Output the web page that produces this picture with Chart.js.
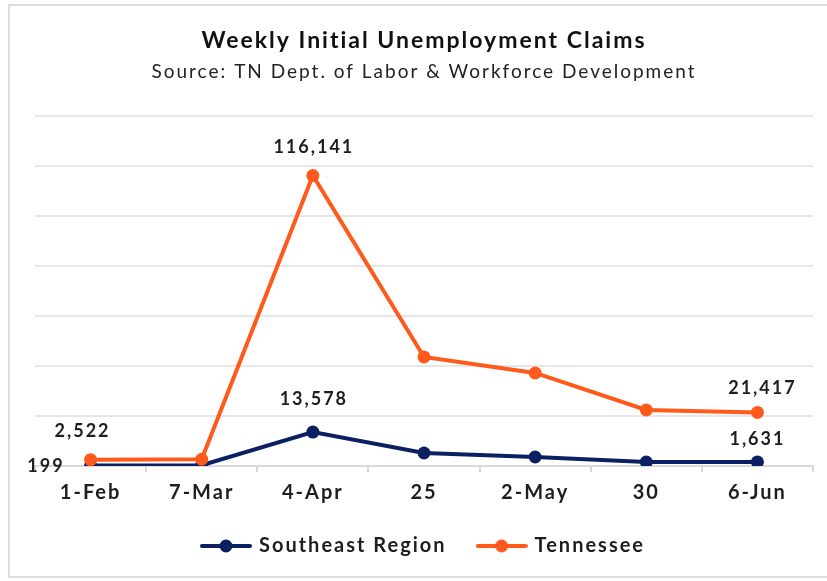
<!DOCTYPE html>
<html><head><meta charset="utf-8">
<script src="https://cdn.jsdelivr.net/npm/chart.js@4"></script>
<style>
html,body{margin:0;padding:0;background:#fff;}
#wrap{position:relative;width:827px;height:581px;overflow:hidden;background:#fff;}
#frame{position:absolute;left:8px;top:4px;width:840px;height:574px;border:2px solid #dcdcdc;box-sizing:border-box;}
canvas{position:absolute;left:0;top:0;}
</style></head><body>
<div id="wrap"><div id="frame"></div><canvas id="c" width="827" height="581"></canvas></div>
<script>
// ---- data ----
const categories = ['1-Feb', '7-Mar', '4-Apr', '25', '2-May', '30', '6-Jun'];
const seriesNames = ['Southeast Region', 'Tennessee'];
const southeastValues = [199, 300, 13578, 5200, 3600, 1600, 1631];
const tennesseeValues = [2522, 2700, 116141, 43600, 37200, 22400, 21417];
const yTickValues = [0, 20000, 40000, 60000, 80000, 100000, 120000, 140000];
const labelledPoints = [ // [datasetIndex, pointIndex]
  [1, 0], [0, 0], [1, 2], [0, 2], [1, 6], [0, 6]
];

// ---- styles ----
const NAVY = '#0b2063';
const ORANGE = '#ff5a1c';
const FONT = 'Lato';
const labelOffsets = {
  '1-0': {dx: -8, dy: -29, align: 'center'},
  '0-0': {dx: -26, dy: 1, align: 'right'},
  '1-2': {dx: 1, dy: -28, align: 'center'},
  '0-2': {dx: 1, dy: -33, align: 'center'},
  '1-6': {dx: 5, dy: -24, align: 'center'},
  '0-6': {dx: 0, dy: -23, align: 'center'}
};

function legendMarker(color) {
  const c = document.createElement('canvas');
  c.width = 52; c.height = 16;
  const g = c.getContext('2d');
  g.strokeStyle = color; g.lineWidth = 4; g.lineCap = 'round';
  g.beginPath(); g.moveTo(2, 8); g.lineTo(50, 8); g.stroke();
  g.fillStyle = color;
  g.beginPath(); g.arc(26, 8, 6.5, 0, Math.PI * 2); g.fill();
  return c;
}
const markers = [legendMarker(NAVY), legendMarker(ORANGE)];

const spacing = {
  id: 'spacing',
  beforeUpdate(chart) { chart.ctx.letterSpacing = '2px'; },
  beforeDraw(chart) { chart.ctx.letterSpacing = '2px'; }
};

const valueLabels = {
  id: 'valueLabels',
  afterDatasetsDraw(chart) {
    const ctx = chart.ctx;
    ctx.save();
    ctx.font = '700 18px ' + FONT;
    ctx.fillStyle = '#1e1e1e';
    ctx.textBaseline = 'middle';
    labelledPoints.forEach(([ds, i]) => {
      const pt = chart.getDatasetMeta(ds).data[i];
      const v = chart.data.datasets[ds].data[i];
      const o = labelOffsets[ds + '-' + i];
      ctx.textAlign = o.align;
      ctx.fillText(v.toLocaleString('en-US'), pt.x + o.dx, pt.y + o.dy);
    });
    ctx.restore();
  }
};

new Chart(document.getElementById('c'), {
  type: 'line',
  data: {
    labels: categories,
    datasets: [
      {label: seriesNames[0], data: southeastValues, borderColor: NAVY, backgroundColor: NAVY,
       borderWidth: 4, pointRadius: 6.5, pointBorderWidth: 0, pointBackgroundColor: NAVY, order: 1, tension: 0},
      {label: seriesNames[1], data: tennesseeValues, borderColor: ORANGE, backgroundColor: ORANGE,
       borderWidth: 4, pointRadius: 6.5, pointBorderWidth: 0, pointBackgroundColor: ORANGE, order: 0, tension: 0}
    ]
  },
  options: {
    responsive: false,
    devicePixelRatio: 1,
    animation: false,
    layout: {padding: {left: 35, right: 14, top: 0, bottom: 15}, autoPadding: false},
    scales: {
      x: {
        offset: true,
        afterFit: s => { s.height = 38; },
        grid: {display: true, drawOnChartArea: false, drawTicks: true, tickLength: 6, color: '#d9d9d9', lineWidth: 2, offset: true},
        border: {display: true, color: '#dadada', width: 2},
        ticks: {color: '#1e1e1e', font: {family: FONT, size: 20, weight: '700'}, padding: 9, maxRotation: 0, autoSkip: false}
      },
      y: {
        min: 0, max: 140000,
        afterBuildTicks: s => { s.ticks = yTickValues.map(v => ({value: v})); },
        afterFit: s => { s.width = 0; },
        grid: {color: '#e6e6e6', lineWidth: 2, drawTicks: false},
        border: {display: false},
        ticks: {display: false}
      }
    },
    plugins: {
      title: {display: true, text: 'Weekly Initial Unemployment Claims', color: '#111',
        font: {family: FONT, size: 23, weight: '700'}, padding: {top: 27, bottom: 2}},
      subtitle: {display: true, text: 'Source: TN Dept. of Labor & Workforce Development', color: '#222',
        font: {family: FONT, size: 19, weight: '400'}, padding: {top: 3.5, bottom: 33}},
      legend: {
        position: 'bottom',
        labels: {
          usePointStyle: true, pointStyleWidth: 46, padding: 32, color: '#1e1e1e',
          font: {family: FONT, size: 20, weight: '700'},
          generateLabels: chart => [0, 1].map(i => ({
            text: chart.data.datasets[i].label, pointStyle: markers[i],
            fillStyle: chart.data.datasets[i].borderColor, strokeStyle: chart.data.datasets[i].borderColor,
            lineWidth: 0, hidden: false, datasetIndex: i, fontColor: '#1e1e1e'
          }))
        }
      },
      tooltip: {enabled: false}
    }
  },
  plugins: [spacing, valueLabels]
});
</script>
</body></html>
